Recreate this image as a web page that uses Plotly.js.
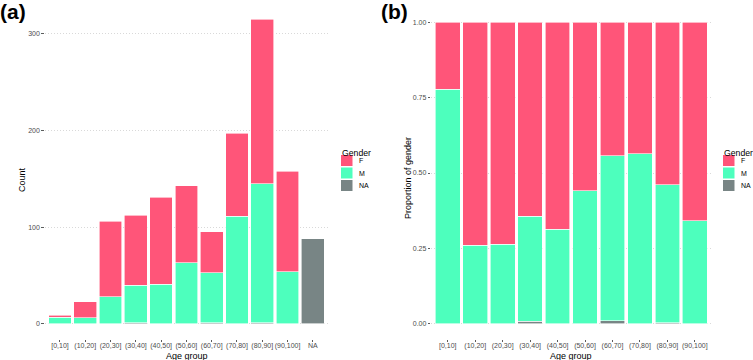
<!DOCTYPE html>
<html>
<head>
<meta charset="utf-8">
<script src="https://cdn.plot.ly/plotly-3.0.1.min.js"></script>
<style>html,body{margin:0;padding:0;background:#fff;}#chart{width:753px;height:360px;}</style>
</head>
<body>
<div id="chart"></div>
<script>
// Data
var ageGroups = ["[0,10]", "(10,20]", "(20,30]", "(30,40]", "(40,50]", "(50,60]", "(60,70]", "(70,80]", "(80,90]", "(90,100]", "NA"];
var countF  = [2, 17, 78, 72, 90, 80, 42, 86, 170, 104, 0];
var countM  = [7, 6, 28, 39, 41, 63, 52, 111, 144, 54, 0];
var countNA = [0, 0, 0, 1, 0, 0, 1, 0, 1, 0, 88];
var genders = ["F", "M", "NA"];
var yTicksA = [0, 100, 200, 300];
var yTicksB = [0, 0.25, 0.5, 0.75, 1.0];
var yTickTextB = ["0.00", "0.25", "0.50", "0.75", "1.00"];

var colors = {F: "#FF5579", M: "#4DFFBD", NA: "#788585"};
var series = {F: countF, M: countM, NA: countNA};

// proportions for panel (b): only non-NA age groups
var ageB = ageGroups.slice(0, 10);
var totals = ageB.map(function (g, i) { return countF[i] + countM[i] + countNA[i]; });
function prop(arr) { return ageB.map(function (g, i) { return arr[i] / totals[i]; }); }

var traces = [];
["NA", "M", "F"].forEach(function (g) {
  traces.push({
    type: "bar", x: ageGroups, y: series[g], name: g, xaxis: "x", yaxis: "y",
    marker: {color: colors[g], line: {color: "#ffffff", width: 0.6}},
    width: 0.9, showlegend: false
  });
});
["NA", "M", "F"].forEach(function (g) {
  traces.push({
    type: "bar", x: ageB, y: prop(series[g]), name: g, xaxis: "x2", yaxis: "y2",
    marker: {color: colors[g], line: {color: "#ffffff", width: 0.6}},
    width: 0.9, showlegend: false
  });
});

var W = 753, H = 360;
function px(x) { return x / W; }
function py(y) { return 1 - y / H; }

var tickFont = {family: "Liberation Sans, Arial, sans-serif", size: 7, color: "#4D4D4D"};
var titleFont = {family: "Liberation Sans, Arial, sans-serif", size: 9, color: "#000000"};
var gridStyle = {showgrid: true, gridcolor: "#D0D0D0", gridwidth: 0.8, griddash: "1px,2px", zeroline: false, showline: false};

var shapes = [], annotations = [];
function legend(x0, ytop) {
  annotations.push({xref: "paper", yref: "paper", x: px(x0), y: py(ytop), xanchor: "left", yanchor: "top",
    text: "Gender", showarrow: false, font: {family: titleFont.family, size: 8.7, color: "#000"}, xshift: -1});
  genders.forEach(function (g, i) {
    var y0 = ytop + 9 + i * 12.5;
    shapes.push({type: "rect", xref: "paper", yref: "paper", x0: px(x0), x1: px(x0 + 11.5),
      y0: py(y0), y1: py(y0 + 11), fillcolor: colors[g], line: {width: 0}});
    annotations.push({xref: "paper", yref: "paper", x: px(x0 + 16), y: py(y0 + 5.5), xanchor: "left", yanchor: "middle",
      text: g, showarrow: false, font: {family: titleFont.family, size: 7, color: "#000"}});
  });
}
legend(341, 146);
legend(723, 146);

// panel labels
annotations.push({xref: "paper", yref: "paper", x: px(0), y: py(-2), xanchor: "left", yanchor: "top", text: "<b>(a)</b>",
  showarrow: false, font: {family: "Liberation Sans, Arial, sans-serif", size: 21, color: "#000"}, xshift: -2});
annotations.push({xref: "paper", yref: "paper", x: px(381), y: py(-2), xanchor: "left", yanchor: "top", text: "<b>(b)</b>",
  showarrow: false, font: {family: "Liberation Sans, Arial, sans-serif", size: 21, color: "#000"}, xshift: -2});
// axis titles
annotations.push({xref: "paper", yref: "paper", x: px(22), y: py(180), text: "Count", textangle: -90,
  showarrow: false, font: titleFont, xanchor: "center", yanchor: "middle"});
annotations.push({xref: "paper", yref: "paper", x: px(408), y: py(178), text: "Proportion of gender", textangle: -90,
  showarrow: false, font: titleFont, xanchor: "center", yanchor: "middle"});
annotations.push({xref: "paper", yref: "paper", x: px(186.5), y: py(355.5), text: "Age group",
  showarrow: false, font: titleFont, xanchor: "center", yanchor: "middle"});
annotations.push({xref: "paper", yref: "paper", x: px(571), y: py(355.5), text: "Age group",
  showarrow: false, font: titleFont, xanchor: "center", yanchor: "middle"});

var layout = {
  width: W, height: H, margin: {l: 0, r: 0, t: 0, b: 0},
  paper_bgcolor: "#ffffff", plot_bgcolor: "#ffffff",
  barmode: "stack", showlegend: false,
  xaxis: {domain: [px(44.8), px(328)], type: "category", range: [-0.6, 10.6], showgrid: false, zeroline: false,
    ticks: "outside", ticklen: 2, tickcolor: "#333333", tickwidth: 0.8, tickfont: tickFont, tickangle: 0,
    ticklabelstandoff: -2, anchor: "y"},
  yaxis: Object.assign({domain: [1 - 339 / H, 1 - 4 / H], range: [-15.75, 330.75], tickvals: yTicksA,
    ticks: "outside", ticklen: 2.5, tickcolor: "#333333", tickwidth: 0.8, tickfont: tickFont, anchor: "x"}, gridStyle),
  xaxis2: {domain: [px(431.3), px(711.3)], type: "category", range: [-0.6, 9.6], showgrid: false, zeroline: false,
    ticks: "outside", ticklen: 2, tickcolor: "#333333", tickwidth: 0.8, tickfont: tickFont, tickangle: 0,
    ticklabelstandoff: -2, anchor: "y2"},
  yaxis2: Object.assign({domain: [1 - 339 / H, 1 - 7 / H], range: [-0.05, 1.05], tickvals: yTicksB, ticktext: yTickTextB,
    ticks: "outside", ticklen: 2.5, tickcolor: "#333333", tickwidth: 0.8, tickfont: tickFont, anchor: "x2"}, gridStyle),
  shapes: shapes, annotations: annotations
};

Plotly.newPlot("chart", traces, layout, {staticPlot: true, displayModeBar: false});
</script>
</body>
</html>
